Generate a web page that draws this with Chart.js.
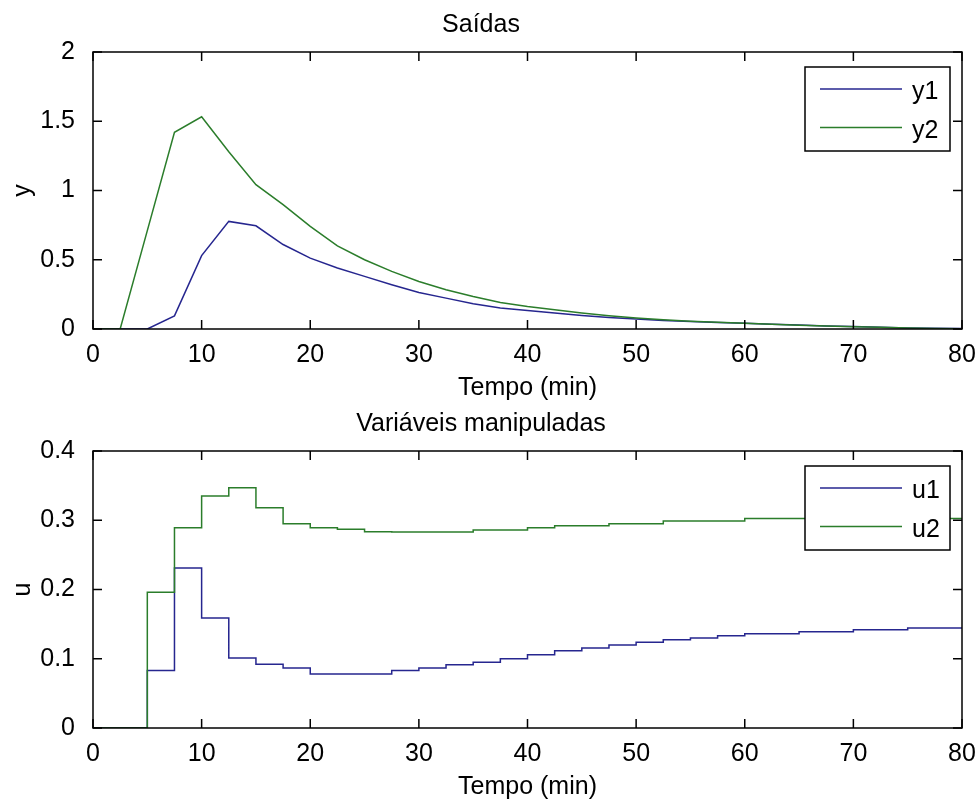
<!DOCTYPE html>
<html>
<head>
<meta charset="utf-8">
<title>Saídas / Variáveis manipuladas</title>
<script src="https://cdn.jsdelivr.net/npm/chart.js@4.4.1/dist/chart.umd.min.js"></script>
<style>
  html, body { margin: 0; padding: 0; background: #fff; }
  #wrap { position: relative; width: 979px; height: 803px; overflow: hidden; }
  canvas { position: absolute; left: 0; }
</style>
</head>
<body>
<div id="wrap">
  <canvas id="outputs" width="979" height="402" style="top:0px"></canvas>
  <canvas id="inputs" width="979" height="404" style="top:399px"></canvas>
</div>
<script>
// sample times (min)
const time = [0, 2.5, 5, 7.5, 10, 12.5, 15, 17.5, 20, 22.5, 25, 27.5, 30, 32.5, 35, 37.5, 40,
  42.5, 45, 47.5, 50, 52.5, 55, 57.5, 60, 62.5, 65, 67.5, 70, 72.5, 75, 77.5, 80]

// outputs
const y1 = [0, 0, 0, 0.095, 0.53, 0.777, 0.745, 0.61, 0.512, 0.44, 0.38, 0.32, 0.264, 0.223, 0.182, 0.151, 0.134,
  0.115, 0.098, 0.083, 0.072, 0.061, 0.054, 0.047, 0.041, 0.034, 0.028, 0.022, 0.018, 0.013, 0.008, 0.005, 0.003]
const y2 = [0, 0, 0.71, 1.42, 1.532, 1.28, 1.042, 0.898, 0.741, 0.6, 0.5, 0.416, 0.343, 0.283, 0.235, 0.192, 0.163,
  0.139, 0.115, 0.095, 0.079, 0.066, 0.056, 0.048, 0.041, 0.034, 0.027, 0.022, 0.017, 0.012, 0.007, 0.004, 0.002]

// manipulated variables (held over each 2.5 min interval)
const u1 = [0, 0, 0.083, 0.231, 0.159, 0.101, 0.092, 0.0865, 0.078, 0.078, 0.078, 0.083, 0.0865, 0.0913, 0.095, 0.1, 0.1058,
  0.1116, 0.1155, 0.12, 0.1237, 0.1275, 0.13, 0.1333, 0.1362, 0.1362, 0.139, 0.139, 0.142, 0.142, 0.1444, 0.1444, 0.1444]
const u2 = [0, 0, 0.196, 0.289, 0.335, 0.347, 0.318, 0.295, 0.289, 0.287, 0.2835, 0.283, 0.283, 0.283, 0.286, 0.286, 0.289,
  0.292, 0.292, 0.295, 0.295, 0.299, 0.299, 0.299, 0.3025, 0.3025, 0.3025, 0.3025, 0.3025, 0.3025, 0.3025, 0.3025, 0.3025]

// ticks
const xTicks = [0, 10, 20, 30, 40, 50, 60, 70, 80]
const xTickLabels = ["0", "10", "20", "30", "40", "50", "60", "70", "80"]
const yTicksOut = [0, 0.5, 1, 1.5, 2]
const yTickLabelsOut = ["0", "0.5", "1", "1.5", "2"]
const yTicksIn = [0, 0.1, 0.2, 0.3, 0.4]
const yTickLabelsIn = ["0", "0.1", "0.2", "0.3", "0.4"]

const BLUE = "#26268f"
const GREEN = "#2b7d2b"

Chart.defaults.font.family = '"Liberation Sans", Arial, sans-serif'
Chart.defaults.font.size = 25
Chart.defaults.color = "#000"

// matlab style box, inward ticks and boxed legend
const matlabAxes = {
  id: "matlabAxes",
  afterDraw(chart) {
    const { ctx, chartArea: a, scales } = chart
    const tick = 9
    ctx.save()
    ctx.strokeStyle = "#000"
    ctx.lineWidth = 1.5
    ctx.beginPath()
    scales.x.ticks.forEach((t) => {
      const px = scales.x.getPixelForValue(t.value)
      ctx.moveTo(px, a.bottom)
      ctx.lineTo(px, a.bottom - tick)
      ctx.moveTo(px, a.top)
      ctx.lineTo(px, a.top + tick)
    })
    scales.y.ticks.forEach((t) => {
      const py = scales.y.getPixelForValue(t.value)
      ctx.moveTo(a.left, py)
      ctx.lineTo(a.left + tick, py)
      ctx.moveTo(a.right, py)
      ctx.lineTo(a.right - tick, py)
    })
    ctx.stroke()
    ctx.strokeRect(a.left, a.top, a.right - a.left, a.bottom - a.top)

    // legend
    const w = 145, h = 84
    const bx = a.right - 12 - w
    const by = a.top + 15
    ctx.fillStyle = "#fff"
    ctx.fillRect(bx, by, w, h)
    ctx.strokeRect(bx, by, w, h)
    ctx.font = Chart.defaults.font.size + "px " + Chart.defaults.font.family
    ctx.textBaseline = "alphabetic"
    ctx.textAlign = "left"
    chart.data.datasets.forEach((ds, i) => {
      const ly = by + 22 + i * 38.5
      ctx.strokeStyle = ds.borderColor
      ctx.lineWidth = 1.5
      ctx.beginPath()
      ctx.moveTo(bx + 15, ly)
      ctx.lineTo(bx + 97, ly)
      ctx.stroke()
      ctx.fillStyle = "#000"
      ctx.fillText(ds.label, bx + 107, ly + 10)
    })
    ctx.restore()
  },
}

function makeChart(id, title, yLabel, yMax, yTicks, yTickLabels, sets, stepped) {
  const canvas = document.getElementById(id)
  const H = canvas.height
  const plotBottom = 329
  return new Chart(canvas.getContext("2d"), {
    type: "line",
    data: {
      datasets: sets.map((s, i) => ({
        label: s.label,
        data: time.map((t, k) => ({ x: t, y: s.values[k] })),
        borderColor: s.color,
        borderWidth: 1.5,
        pointRadius: 0,
        tension: 0,
        stepped: stepped ? "before" : false,
        fill: false,
        order: sets.length - 1 - i,
      })),
    },
    plugins: [matlabAxes],
    options: {
      responsive: false,
      devicePixelRatio: 1,
      animation: false,
      layout: { padding: { top: 0, right: 17, bottom: 0, left: 0 } },
      plugins: {
        legend: { display: false },
        tooltip: { enabled: false },
        title: {
          display: true,
          text: title,
          color: "#000",
          font: { size: 25, weight: "normal", lineHeight: 1.2 },
          padding: { top: 10.5, bottom: 11.5 },
        },
      },
      scales: {
        x: {
          type: "linear",
          min: 0,
          max: 80,
          grid: { display: false },
          border: { display: false },
          afterBuildTicks: (scale) => {
            scale.ticks = xTicks.map((v) => ({ value: v }))
          },
          afterFit: (scale) => {
            scale.height = H - plotBottom
          },
          ticks: {
            padding: 3,
            maxRotation: 0,
            callback: (v) => xTickLabels[xTicks.indexOf(v)],
          },
          title: {
            display: true,
            text: "Tempo (min)",
            font: { size: 25, lineHeight: 1 },
            padding: { top: 0, bottom: H - 400.5 },
          },
        },
        y: {
          min: 0,
          max: yMax,
          grid: { display: false },
          border: { display: false },
          afterBuildTicks: (scale) => {
            scale.ticks = yTicks.map((v) => ({ value: v }))
          },
          afterFit: (scale) => {
            scale.width = 93
          },
          ticks: {
            padding: 10,
            callback: (v) => yTickLabels[yTicks.indexOf(v)],
          },
          title: {
            display: true,
            text: yLabel,
            font: { size: 25, lineHeight: 1.2 },
            padding: { top: 8, bottom: 0 },
          },
        },
      },
    },
  })
}

makeChart("outputs", "Saídas", "y", 2, yTicksOut, yTickLabelsOut, [
  { label: "y1", values: y1, color: BLUE },
  { label: "y2", values: y2, color: GREEN },
], false)

makeChart("inputs", "Variáveis manipuladas", "u", 0.4, yTicksIn, yTickLabelsIn, [
  { label: "u1", values: u1, color: BLUE },
  { label: "u2", values: u2, color: GREEN },
], true)
</script>
</body>
</html>
